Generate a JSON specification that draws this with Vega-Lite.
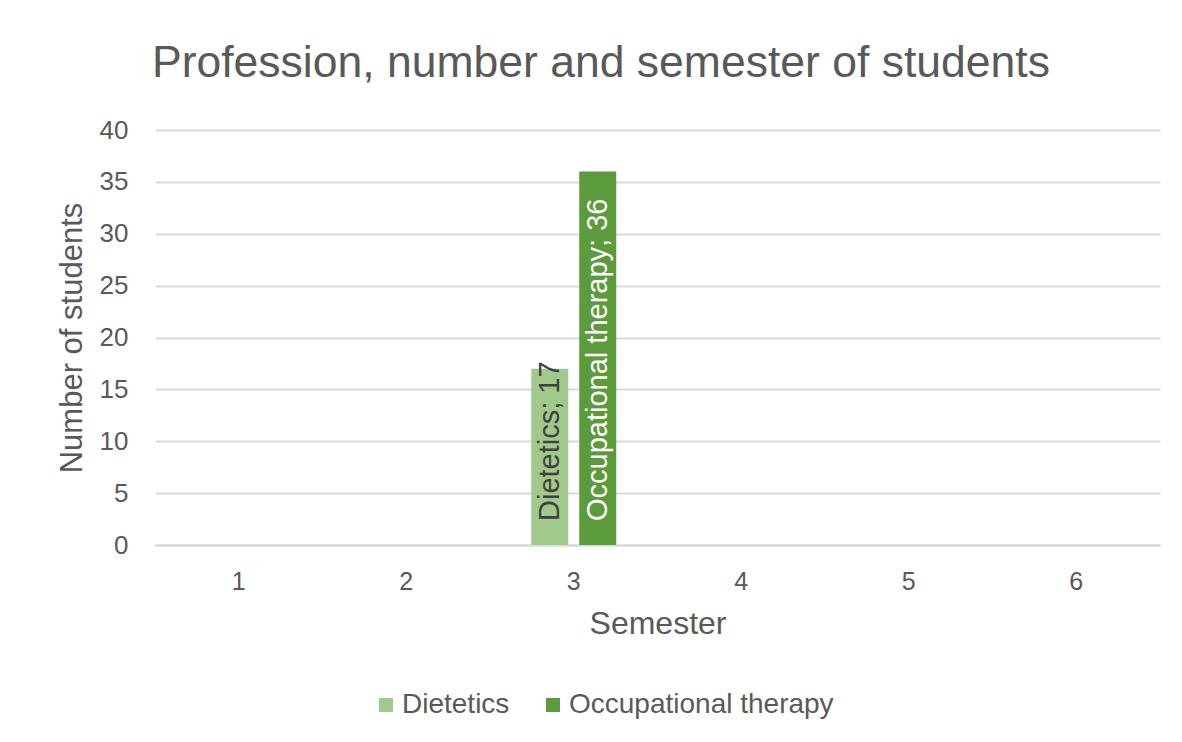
{
  "$schema": "https://vega.github.io/schema/vega-lite/v6.json",
  "width": 1005,
  "height": 415,
  "autosize": {"type": "none"},
  "padding": {"left": 155, "top": 130, "right": 22, "bottom": 197},
  "background": "white",
  "title": {
    "text": "Profession, number and semester of students",
    "anchor": "start",
    "frame": "group",
    "baseline": "alphabetic",
    "offset": -4,
    "dx": -3,
    "font": "Liberation Sans",
    "fontSize": 44.5,
    "fontWeight": "normal",
    "color": "#595959"
  },
  "data": {
    "values": [
      {"semester": 3, "profession": "Dietetics", "students": 17, "label": "Dietetics; 17"},
      {"semester": 3, "profession": "Occupational therapy", "students": 36, "label": "Occupational therapy; 36"}
    ]
  },
  "encoding": {
    "x": {
      "field": "semester",
      "type": "ordinal",
      "scale": {"domain": [1, 2, 3, 4, 5, 6], "paddingInner": 0, "paddingOuter": 0},
      "axis": {
        "title": "Semester",
        "labelAngle": 0,
        "labelFont": "Liberation Sans",
        "labelFontSize": 25,
        "labelColor": "#595959",
        "labelPadding": 24,
        "ticks": false,
        "domainColor": "#d9d9d9",
        "domainWidth": 2,
        "titleFont": "Liberation Sans",
        "titleFontSize": 32,
        "titleFontWeight": "normal",
        "titleColor": "#595959",
        "titlePadding": 14
      }
    },
    "xOffset": {
      "field": "profession",
      "type": "nominal",
      "scale": {"domain": ["Dietetics", "Occupational therapy"], "paddingInner": 0.229, "paddingOuter": 0.86}
    }
  },
  "layer": [
    {
      "mark": {"type": "bar"},
      "encoding": {
        "y": {
          "field": "students",
          "type": "quantitative",
          "scale": {"domain": [0, 40], "nice": false},
          "axis": {
            "title": "Number of students",
            "values": [0, 5, 10, 15, 20, 25, 30, 35, 40],
            "labelFont": "Liberation Sans",
            "labelFontSize": 26,
            "labelColor": "#595959",
            "labelPadding": 27,
            "ticks": false,
            "domain": false,
            "gridColor": "#d9d9d9",
            "gridWidth": 2,
            "titleFont": "Liberation Sans",
            "titleFontSize": 31,
            "titleFontWeight": "normal",
            "titleColor": "#595959",
            "titlePadding": 11
          }
        },
        "color": {
          "field": "profession",
          "type": "nominal",
          "scale": {"domain": ["Dietetics", "Occupational therapy"], "range": ["#a1c98b", "#5c9b3b"]},
          "legend": {
            "title": null,
            "orient": "none",
            "direction": "horizontal",
            "legendX": 217,
            "legendY": 561,
            "symbolType": "square",
            "symbolSize": 196,
            "symbolStrokeWidth": 0,
            "labelFont": "Liberation Sans",
            "labelFontSize": 28,
            "labelColor": "#595959",
            "labelOffset": 2,
            "columnPadding": 29,
            "labelLimit": 400
          }
        }
      }
    },
    {
      "mark": {
        "type": "text",
        "angle": 270,
        "align": "left",
        "baseline": "middle",
        "dx": 24,
        "font": "Liberation Sans",
        "fontSize": 29
      },
      "encoding": {
        "y": {"datum": 0, "type": "quantitative"},
        "text": {"field": "label"},
        "color": {
          "condition": {"test": "datum.profession === 'Dietetics'", "value": "#404040"},
          "value": "#ffffff"
        }
      }
    }
  ],
  "config": {"view": {"stroke": null}}
}
